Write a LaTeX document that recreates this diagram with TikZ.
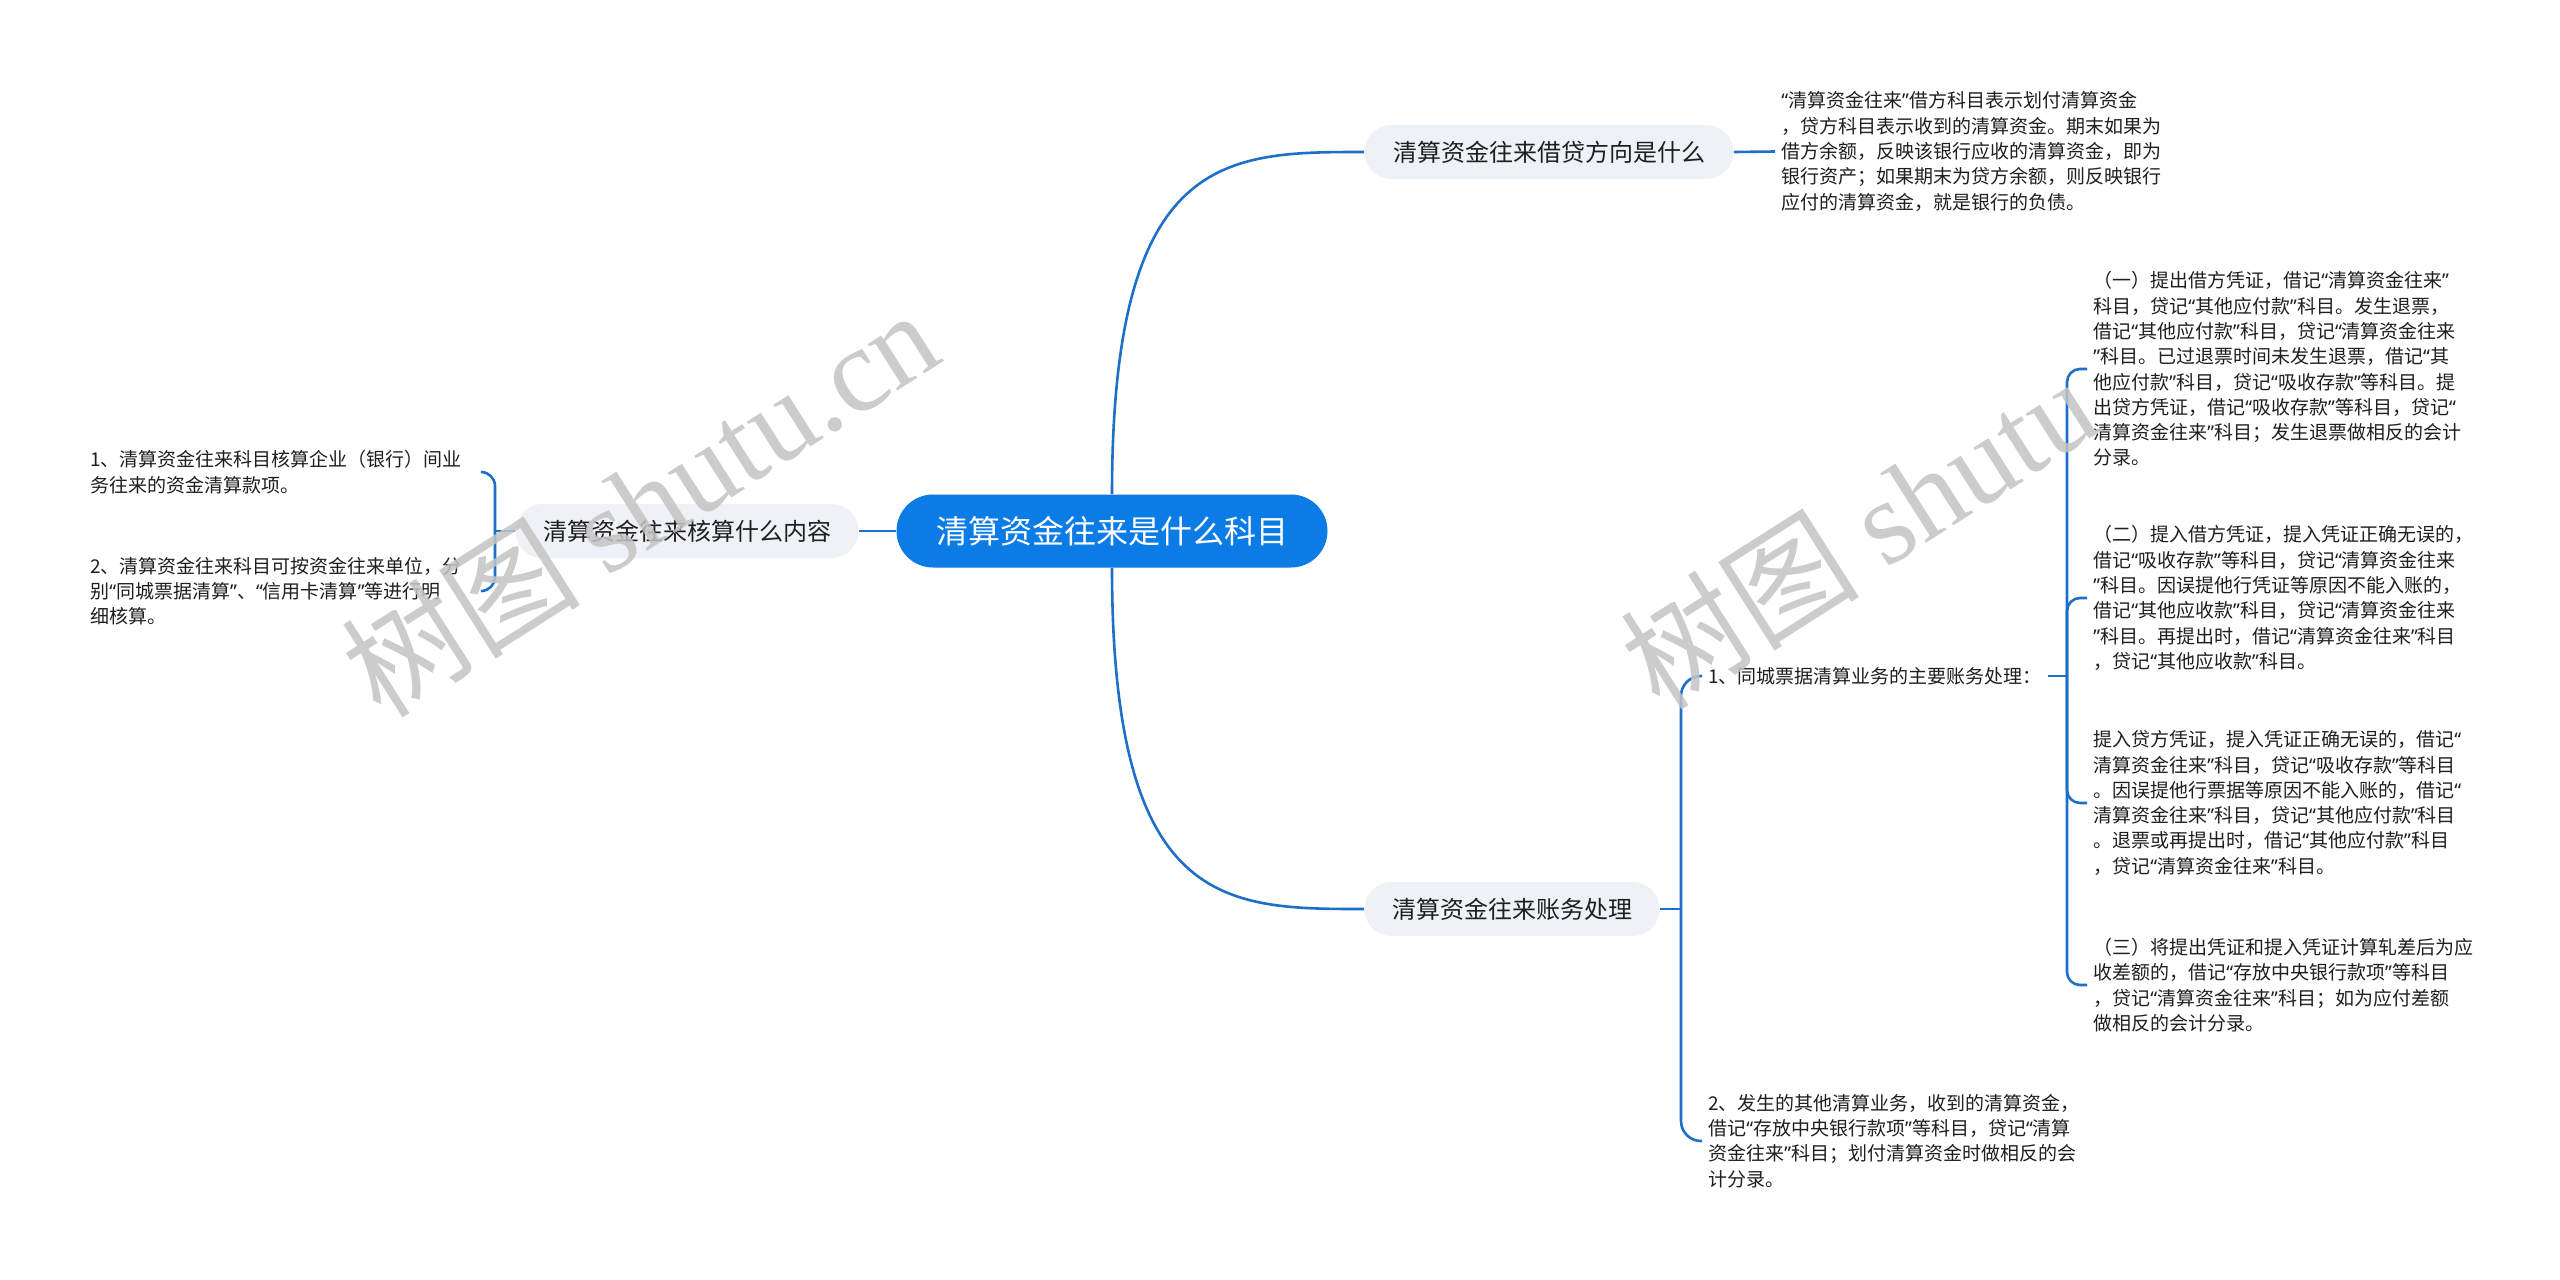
\documentclass[tikz,border=0pt]{standalone}
\usepackage{fontspec}
\setmainfont{Noto Sans CJK SC}
\newfontfamily\wmlatin{Liberation Serif}
\newfontfamily\qfont{Noto Sans}
\catcode`“=13
\catcode`”=13
\protected\def“{{\qfont\char"201C\relax}}
\protected\def”{{\qfont\char"201D\relax}}
\definecolor{linkblue}{HTML}{1E6FC8}
\definecolor{rootblue}{HTML}{0B7BE6}
\definecolor{nodegrey}{HTML}{EEF1F5}
\definecolor{txt}{HTML}{1F1F1F}
\definecolor{wmgrey}{HTML}{C4C4C4}
\begin{document}
\begin{tikzpicture}[x=0.5pt,y=-0.5pt,
  conn/.style={draw=linkblue, line width=1.3pt},
  rootbox/.style={fill=rootblue, text=white, rounded corners=18.25pt, minimum width=215.5pt, minimum height=36.5pt, inner sep=0pt, font=\fontsize{16}{19}\selectfont},
  topic/.style={fill=nodegrey, text=txt, rounded corners=13.5pt, minimum height=27pt, inner sep=0pt, font=\fontsize{12}{14}\selectfont},
  body/.style={text=txt, align=left, inner xsep=3pt, inner ysep=0pt, font=\fontsize{9.5}{12.65}\selectfont, anchor=west},
  wm/.style={text=wmgrey, opacity=0.85, font=\fontsize{60}{60}\selectfont, inner sep=0pt, anchor=base west, rotate=32.5}]
\fill[white] (0,0) rectangle (2560,1280);
\useasboundingbox (0,0) rectangle (2560,1280);

% main nodes
\node[rootbox] (root) at (1112,531) {清算资金往来是什么科目};
\node[topic, minimum width=171.5pt] (ln) at (687,531) {清算资金往来核算什么内容};
\node[topic, minimum width=184.5pt] (tn) at (1549,152) {清算资金往来借贷方向是什么};
\node[topic, minimum width=147.5pt] (bn) at (1512,909) {清算资金往来账务处理};

% text nodes
\node[body] (t) at (1775,151.5) {“清算资金往来”借方科目表示划付清算资金\\，贷方科目表示收到的清算资金。期末如果为\\借方余额，反映该银行应收的清算资金，即为\\银行资产；如果期末为贷方余额，则反映银行\\应付的清算资金，就是银行的负债。};

\node[body, text width=192pt] (l1) at (84,472) {1、清算资金往来科目核算企业（银行）间业\\务往来的资金清算款项。};
\node[body, text width=192pt] (l2) at (84,591) {2、清算资金往来科目可按资金往来单位，分\\别“同城票据清算”、“信用卡清算”等进行明\\细核算。};

\node[body] (r1) at (1702,676) {1、同城票据清算业务的主要账务处理：};
\node[body] (r2) at (1702,1141) {2、发生的其他清算业务，收到的清算资金，\\借记“存放中央银行款项”等科目，贷记“清算\\资金往来”科目；划付清算资金时做相反的会\\计分录。};

\node[body] (c1) at (2087,369) {（一）提出借方凭证，借记“清算资金往来”\\科目，贷记“其他应付款”科目。发生退票，\\借记“其他应付款”科目，贷记“清算资金往来\\”科目。已过退票时间未发生退票，借记“其\\他应付款”科目，贷记“吸收存款”等科目。提\\出贷方凭证，借记“吸收存款”等科目，贷记“\\清算资金往来”科目；发生退票做相反的会计\\分录。};
\node[body] (c2) at (2087,598) {（二）提入借方凭证，提入凭证正确无误的，\\借记“吸收存款”等科目，贷记“清算资金往来\\”科目。因误提他行凭证等原因不能入账的，\\借记“其他应收款”科目，贷记“清算资金往来\\”科目。再提出时，借记“清算资金往来”科目\\，贷记“其他应收款”科目。};
\node[body] (c3) at (2087,803) {提入贷方凭证，提入凭证正确无误的，借记“\\清算资金往来”科目，贷记“吸收存款”等科目\\。因误提他行票据等原因不能入账的，借记“\\清算资金往来”科目，贷记“其他应付款”科目\\。退票或再提出时，借记“其他应付款”科目\\，贷记“清算资金往来”科目。};
\node[body] (c4) at (2087,985) {（三）将提出凭证和提入凭证计算轧差后为应\\收差额的，借记“存放中央银行款项”等科目\\，贷记“清算资金往来”科目；如为应付差额\\做相反的会计分录。};

% junctions
\coordinate (j1) at (495,531);
\coordinate (j2) at (1681,909);
\coordinate (j3) at (2067,676);

% connectors
\draw[conn] (root.west) -- (ln.east);
\draw[conn] (root.north) .. controls (1112,152) and (1225,152) .. (tn.west);
\draw[conn] (root.south) .. controls (1112,909) and (1225,909) .. (bn.west);
\draw[conn] (tn.east) -- (t.west);

\draw[conn] (ln.west) -- (j1);
\draw[conn, rounded corners=7pt] (j1) |- (l1.east);
\draw[conn, rounded corners=7pt] (j1) |- (l2.east);

\draw[conn] (bn.east) -- (j2);
\draw[conn, rounded corners=10pt] (j2) |- (r1.west);
\draw[conn, rounded corners=10pt] (j2) |- (r2.west);

\draw[conn] (r1.east) -- (j3);
\draw[conn, rounded corners=6.5pt] (j3) |- (c1.west);
\draw[conn, rounded corners=6.5pt] (j3) |- (c2.west);
\draw[conn, rounded corners=6.5pt] (j3) |- (c3.west);
\draw[conn, rounded corners=6.5pt] (j3) |- (c4.west);

% watermarks
\node[wm] (wm1) at (381,721) {树图 {\wmlatin shutu.cn}};
\node[wm] (wm2) at (1660,713) {树图 {\wmlatin shutu}};
\end{tikzpicture}
\end{document}
